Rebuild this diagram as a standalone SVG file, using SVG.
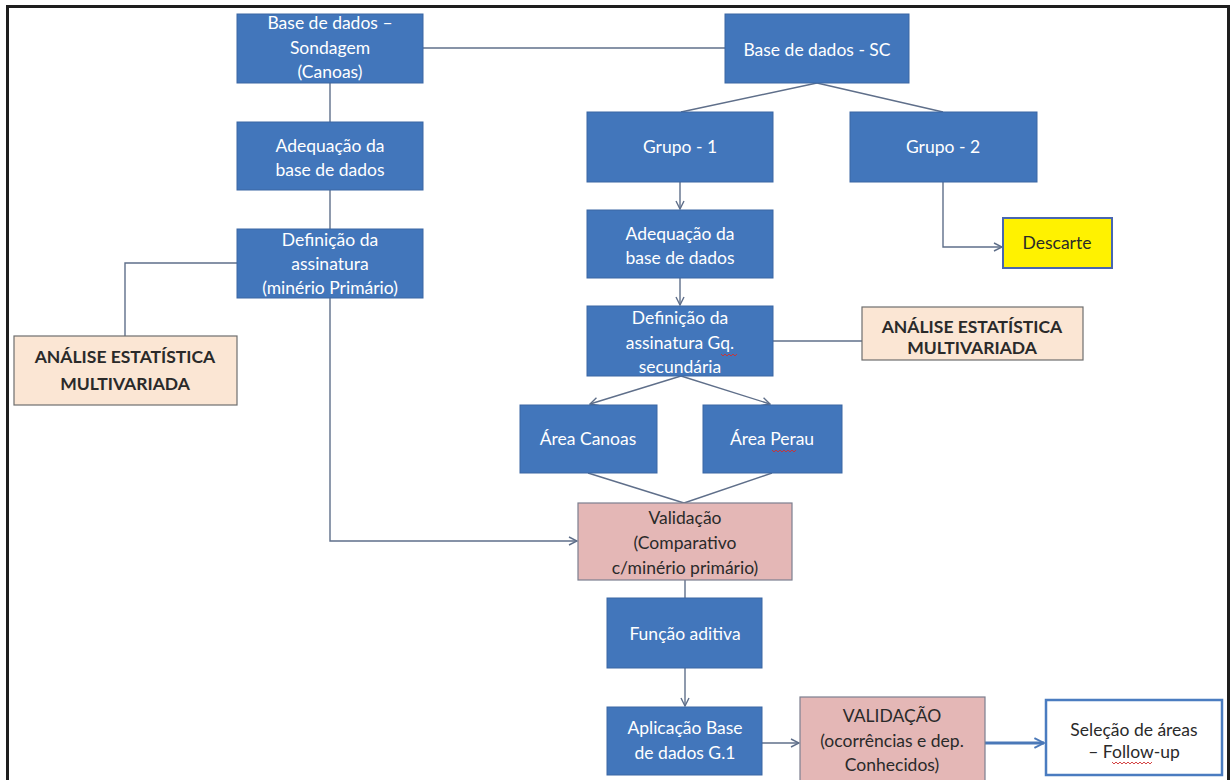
<svg xmlns="http://www.w3.org/2000/svg" width="1231" height="780" viewBox="0 0 1231 780">
<defs>
<marker id="ah" viewBox="0 0 10 10" refX="9" refY="5" markerWidth="10" markerHeight="10" markerUnits="userSpaceOnUse" orient="auto">
<path d="M1,1 L9,5 L1,9" fill="none" stroke="#5f6f8a" stroke-width="1.4"/>
</marker>
<marker id="ahb" viewBox="0 0 10 10" refX="9" refY="5" markerWidth="12" markerHeight="12" markerUnits="userSpaceOnUse" orient="auto">
<path d="M1,1 L9,5 L1,9" fill="none" stroke="#4a78b8" stroke-width="1.6"/>
</marker>
</defs>
<style>
.blue{fill:#4276bb;stroke:#3a66a3;stroke-width:1}
.peach{fill:#fbe6d4;stroke:#6e6e6e;stroke-width:1.2}
.pink{fill:#e4b7b6;stroke:#7c7f8f;stroke-width:1.2}
.yel{fill:#fff200;stroke:#4866b0;stroke-width:2}
.wht{fill:#ffffff;stroke:#4a7cc0;stroke-width:2.5}
text{font-family:Lato,"Liberation Sans",sans-serif;font-size:17.5px;text-anchor:middle}
.w{fill:#ffffff}
.d{fill:#2a2a2a}
.b{font-weight:bold;fill:#2a2a2a}
.c{fill:none;stroke:#5f6f8a;stroke-width:1.4}
.cb{fill:none;stroke:#4a78b8;stroke-width:3}
.sq{fill:none;stroke:#d03030;stroke-width:0.9}
</style>
<rect x="0" y="0" width="1231" height="780" fill="#ffffff"/>
<path d="M7.5,780 V6.5 H1228.5 V780" fill="none" stroke="#1e1e1e" stroke-width="3"/>

<g id="connectors">
<line class="c" x1="423" y1="48" x2="725" y2="48"/>
<line class="c" x1="330" y1="83" x2="330" y2="122"/>
<line class="c" x1="330" y1="190" x2="330" y2="229"/>
<polyline class="c" points="237,263 125,263 125,336"/>
<polyline class="c" points="330,298 330,541 577,541" marker-end="url(#ah)"/>
<line class="c" x1="817" y1="83" x2="681" y2="112"/>
<line class="c" x1="817" y1="83" x2="943" y2="112"/>
<line class="c" x1="680" y1="182" x2="680" y2="209" marker-end="url(#ah)"/>
<line class="c" x1="680" y1="278" x2="680" y2="305" marker-end="url(#ah)"/>
<polyline class="c" points="943,182 943,247 1002,247" marker-end="url(#ah)"/>
<line class="c" x1="773" y1="341" x2="862" y2="341"/>
<line class="c" x1="681" y1="376" x2="590" y2="404" marker-end="url(#ah)"/>
<line class="c" x1="681" y1="376" x2="770" y2="404" marker-end="url(#ah)"/>
<line class="c" x1="588" y1="473" x2="684" y2="503"/>
<line class="c" x1="772" y1="473" x2="684" y2="503"/>
<line class="c" x1="685" y1="580" x2="685" y2="598"/>
<line class="c" x1="685" y1="668" x2="685" y2="706" marker-end="url(#ah)"/>
<line class="c" x1="762" y1="743" x2="799" y2="743" marker-end="url(#ah)"/>
<line class="cb" x1="985" y1="743" x2="1044" y2="743" marker-end="url(#ahb)"/>
</g>

<g id="n-sondagem">
<rect class="blue" x="237" y="14" width="186" height="69"/>
<text class="w" x="330" y="29">Base de dados –</text>
<text class="w" x="330" y="54">Sondagem</text>
<text class="w" x="330" y="78">(Canoas)</text>
</g>
<g id="n-adequacao-l">
<rect class="blue" x="237" y="122" width="186" height="68"/>
<text class="w" x="330" y="152">Adequação da</text>
<text class="w" x="330" y="176">base de dados</text>
</g>
<g id="n-definicao-l">
<rect class="blue" x="237" y="229" width="186" height="69"/>
<text class="w" x="330" y="246">Definição da</text>
<text class="w" x="330" y="270">assinatura</text>
<text class="w" x="330" y="294">(minério Primário)</text>
</g>
<g id="n-analise-l">
<rect class="peach" x="14" y="336" width="223" height="69"/>
<text class="b" x="125" y="363">ANÁLISE ESTATÍSTICA</text>
<text class="b" x="125" y="390">MULTIVARIADA</text>
</g>
<g id="n-sc">
<rect class="blue" x="725" y="14" width="184" height="69"/>
<text class="w" x="817" y="56">Base de dados - SC</text>
</g>
<g id="n-grupo1">
<rect class="blue" x="587" y="112" width="186" height="70"/>
<text class="w" x="680" y="153">Grupo - 1</text>
</g>
<g id="n-grupo2">
<rect class="blue" x="850" y="112" width="187" height="70"/>
<text class="w" x="943" y="153">Grupo - 2</text>
</g>
<g id="n-descarte">
<rect class="yel" x="1003" y="218" width="109" height="50"/>
<text class="d" x="1057" y="249">Descarte</text>
</g>
<g id="n-adequacao-r">
<rect class="blue" x="587" y="210" width="186" height="68"/>
<text class="w" x="680" y="240">Adequação da</text>
<text class="w" x="680" y="264">base de dados</text>
</g>
<g id="n-definicao-r">
<rect class="blue" x="587" y="306" width="186" height="70"/>
<text class="w" x="680" y="324">Definição da</text>
<text class="w" x="680" y="349">assinatura Gq.</text>
<text class="w" x="680" y="373">secundária</text>
<path class="sq" d="M721,354 l2,2 l2,-2 l2,2 l2,-2 l2,2 l2,-2 l2,2 l2,-2"/>
</g>
<g id="n-analise-r">
<rect class="peach" x="862" y="307" width="221" height="53"/>
<text class="b" x="972" y="333">ANÁLISE ESTATÍSTICA</text>
<text class="b" x="972" y="354">MULTIVARIADA</text>
</g>
<g id="n-canoas">
<rect class="blue" x="520" y="405" width="137" height="68"/>
<text class="w" x="588" y="445">Área Canoas</text>
</g>
<g id="n-perau">
<rect class="blue" x="703" y="405" width="139" height="68"/>
<text class="w" x="772" y="445">Área Perau</text>
<path class="sq" d="M772,450 l2,2 l2,-2 l2,2 l2,-2 l2,2 l2,-2 l2,2 l2,-2 l2,2 l2,-2 l2,2 l2,-2"/>
</g>
<g id="n-validacao">
<rect class="pink" x="578" y="503" width="214" height="77"/>
<text class="d" x="685" y="524">Validação</text>
<text class="d" x="685" y="549">(Comparativo</text>
<text class="d" x="685" y="574">c/minério primário)</text>
</g>
<g id="n-funcao">
<rect class="blue" x="607" y="598" width="155" height="70"/>
<text class="w" x="685" y="640">Função aditiva</text>
</g>
<g id="n-aplicacao">
<rect class="blue" x="607" y="707" width="155" height="68"/>
<text class="w" x="685" y="734">Aplicação Base</text>
<text class="w" x="685" y="759">de dados G.1</text>
</g>
<g id="n-validacao2">
<rect class="pink" x="800" y="697" width="185" height="90"/>
<text class="d" x="892" y="722">VALIDAÇÃO</text>
<text class="d" x="892" y="747">(ocorrências e dep.</text>
<text class="d" x="892" y="771">Conhecidos)</text>
</g>
<g id="n-selecao">
<rect class="wht" x="1046" y="700" width="176" height="75"/>
<text class="d" x="1134" y="736">Seleção de áreas</text>
<text class="d" x="1134" y="758">– Follow-up</text>
<path class="sq" d="M1112,762 l2,2 l2,-2 l2,2 l2,-2 l2,2 l2,-2 l2,2 l2,-2 l2,2 l2,-2 l2,2 l2,-2 l2,2 l2,-2 l2,2 l2,-2 l2,2 l2,-2 l2,2 l2,-2"/>
</g>
</svg>
